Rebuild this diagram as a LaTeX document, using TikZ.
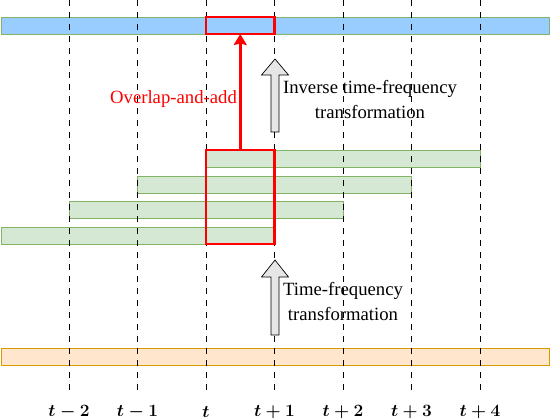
\documentclass[tikz,border=0pt]{standalone}
\usepackage{fontspec}
\setmainfont{Liberation Serif}
\usetikzlibrary{arrows.meta}
\definecolor{bluefill}{HTML}{99CCFF}
\definecolor{greenfill}{HTML}{D5E8D4}
\definecolor{greenline}{HTML}{82B366}
\definecolor{orangefill}{HTML}{FFE6CC}
\definecolor{orangeline}{HTML}{D79B00}
\definecolor{arrowfill}{HTML}{E6E6E6}
\tikzset{
  bar/.style={draw=greenline, line width=0.9pt, fill=greenfill, inner sep=0pt, outer sep=0pt, anchor=north west, minimum height=17pt},
  redbox/.style={draw=red, line width=2.6pt, inner sep=0pt, outer sep=0pt, anchor=north west},
  grid/.style={black, line width=0.8pt, dash pattern=on 6pt off 6pt},
  tlabel/.style={font=\fontsize{16}{19}\selectfont\boldmath},
  note/.style={align=center, font=\fontsize{18.7}{25}\selectfont},
  fatarrow/.style={draw=black, line width=0.7pt, fill=arrowfill, line join=miter}
}
\begin{document}
\begin{tikzpicture}[x=1pt,y=-1pt]
\useasboundingbox (0,0) rectangle (550,420);
% bars
\node[bar, fill=bluefill, minimum width=548pt] (blue) at (1,17) {};
\node[bar, minimum width=274pt] (g1) at (206,150) {};
\node[bar, minimum width=274pt] (g2) at (137.5,176) {};
\node[bar, minimum width=274pt] (g3) at (69,201) {};
\node[bar, minimum width=273.5pt] (g4) at (1,227) {};
\node[bar, draw=orangeline, fill=orangefill, minimum width=548pt] (orange) at (1,348) {};
% dashed time grid
\foreach \i/\lab [count=\k from 0] in {a/t-2, b/t-1, c/t, d/t+1, e/t+2, f/t+3, g/t+4} {
  \coordinate (top\i) at ({69+68.5*\k},0);
  \coordinate (bot\i) at ({69+68.5*\k},392);
  \draw[grid] (top\i) -- (bot\i);
  \node[tlabel] (lab\i) at ({69+68.5*\k},412) {$\lab$};
}
% red boxes and arrow
\node[redbox, minimum width=68.5pt, minimum height=17pt] (rtop) at (206,17) {};
\node[redbox, minimum width=68.5pt, minimum height=94pt] (rbig) at (206,150) {};
\draw[red, line width=2.6pt, -{Stealth[length=11pt,width=13pt,inset=1.5pt]}] (rbig.north) -- (rtop.south);
\node[note, text=red] (ola) at (173.5,99) {Overlap-and-add};
% gray arrows
\coordinate (ua) at (275,132);
\draw[fatarrow] (ua) ++(-4,0) -- ++(0,-57) -- ++(-9.5,0) -- ++(13.5,-16) -- ++(13.5,16) -- ++(-9.5,0) -- ++(0,57) -- cycle;
\node[note] (itf) at (370,99.5) {Inverse time-frequency\\transformation};
\coordinate (la) at (275,335);
\draw[fatarrow] (la) ++(-4,0) -- ++(0,-58) -- ++(-9.5,0) -- ++(13.5,-17) -- ++(13.5,17) -- ++(-9.5,0) -- ++(0,58) -- cycle;
\node[note] (tf) at (343,301.5) {Time-frequency\\transformation};
\end{tikzpicture}
\end{document}
